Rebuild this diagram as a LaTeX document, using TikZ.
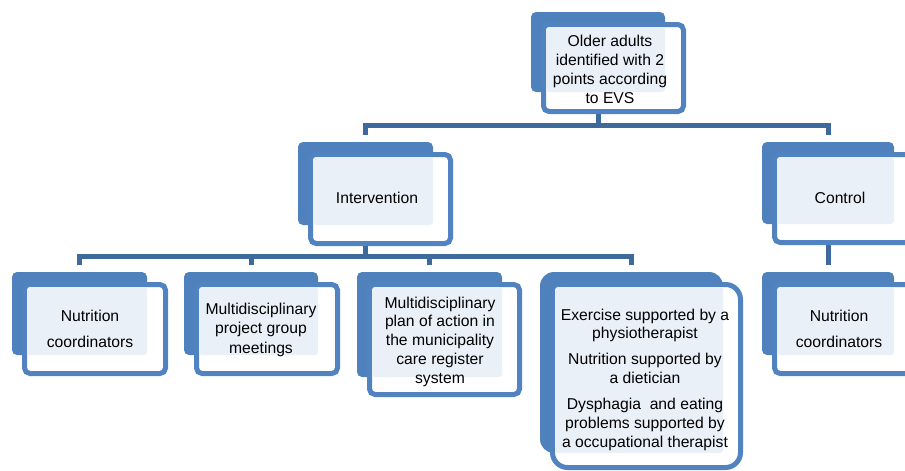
\documentclass[tikz,border=0pt]{standalone}
\usepackage{fontspec}
\setmainfont{Liberation Sans}
\usetikzlibrary{backgrounds}
\definecolor{backc}{HTML}{4F81BD}
\definecolor{framec}{HTML}{5083C0}
\definecolor{lightc}{HTML}{EAF0F8}
\definecolor{connc}{HTML}{3E6A9B}
\tikzset{
  backbox/.style={rectangle, fill=backc, draw=none, inner sep=0pt, outer sep=0pt},
  frontbox/.style={rectangle, fill=white, draw=framec, line width=5pt, inner sep=0pt, outer sep=0pt},
  conn/.style={draw=connc, line width=5pt},
  txt/.style={align=center, inner sep=0pt, anchor=north, text=black},
}
% #1 name, #2 x1, #3 y1, #4 x2, #5 y2, #6 front x2, #7 front y2, #8 back radius, #9 front radius
\newcommand\smartbox[9]{%
  \node[backbox, rounded corners=#8, minimum width={(#4-#2)*1pt}, minimum height={(#5-#3)*1pt}] (#1B) at ({(#2+#4)/2},{(#3+#5)/2}) {};
  \node[frontbox, rounded corners=#9, minimum width={(#6-#2-15)*1pt}, minimum height={(#7-#3-15)*1pt}] (#1F) at ({(#2+10+#6)/2},{(#3+10+#7)/2}) {};
  \fill[lightc, rounded corners=3pt] ({#2+15},{#3+15}) rectangle (#4,#5);
}
\begin{document}
\begin{tikzpicture}[x=1pt,y=-1pt]
\useasboundingbox (0,0) rectangle (905,471);
\clip (0,0) rectangle (905,471);

\smartbox{top}{531}{12}{665}{92}{686}{114}{5pt}{5.5pt}
\smartbox{int}{298}{142}{433}{225}{453}{246}{5pt}{5.5pt}
\smartbox{ctl}{762}{142}{894}{224}{917}{245}{5pt}{5.5pt}
\smartbox{nca}{12}{272}{147}{355}{168}{376}{5pt}{5.5pt}
\smartbox{mpg}{184}{272}{318}{355}{340}{376}{5pt}{5.5pt}
\smartbox{pln}{357}{272}{502}{377}{522}{397}{5pt}{5.5pt}
\smartbox{exr}{540}{272}{723}{453}{743}{470}{14pt}{15pt}
\smartbox{ncb}{762}{272}{894}{355}{917}{376}{5pt}{5.5pt}

\coordinate (bar1) at (0,125.5);
\coordinate (bar2) at (0,256);

\begin{scope}[on background layer]
  \fill[white] (0,0) rectangle (905,471);
  \draw[conn] (topB.south) -- (topB.south |- bar1);
  \draw[conn] ([yshift=7pt]intB.north) |- (topB.south |- bar1) -| ([yshift=7pt]ctlB.north);
  \draw[conn] (intB.south) -- (intB.south |- bar2);
  \draw[conn] ([yshift=7pt]ncaB.north) |- (intB.south |- bar2) -| ([yshift=7pt]exrB.north);
  \draw[conn] ([yshift=7pt]mpgB.north) -- (mpgB.north |- bar2);
  \draw[conn] ([yshift=7pt]plnB.north) -- (plnB.north |- bar2);
  \draw[conn] (ctlB.south) -- ([yshift=7pt]ncbB.north);
\end{scope}

\node[txt, font=\fontsize{15.7}{19}\selectfont] (topT) at (610,34.5) {Older adults\\identified with 2\\points according\\to EVS};
\node[txt, font=\fontsize{15.7}{19}\selectfont] (intT) at (377,191.5) {Intervention};
\node[txt, font=\fontsize{15.7}{19}\selectfont] (ctlT) at (840,191.5) {Control};
\node[txt, font=\fontsize{15.7}{19}\selectfont] (ncaT) at (90,309.5) {Nutrition\\[7pt]coordinators};
\node[txt, font=\fontsize{15.7}{19.5}\selectfont] (mpgT) at (261,302.5) {Multidisciplinary\\project group\\meetings};
\node[txt, font=\fontsize{15.7}{18.75}\selectfont] (plnT) at (440,296.5) {Multidisciplinary\\plan of action in\\the municipality\\care register\\system};
\node[txt, font=\fontsize{15.7}{19}\selectfont] (exrT) at (645,308.5) {Exercise supported by a\\[-1pt]physiotherapist\\[7pt]Nutrition supported by\\a dietician\\[7pt]Dysphagia~ and eating\\problems supported by\\a occupational therapist};
\node[txt, font=\fontsize{15.7}{19}\selectfont] (ncbT) at (839,309.5) {Nutrition\\[7pt]coordinators};
\end{tikzpicture}
\end{document}
